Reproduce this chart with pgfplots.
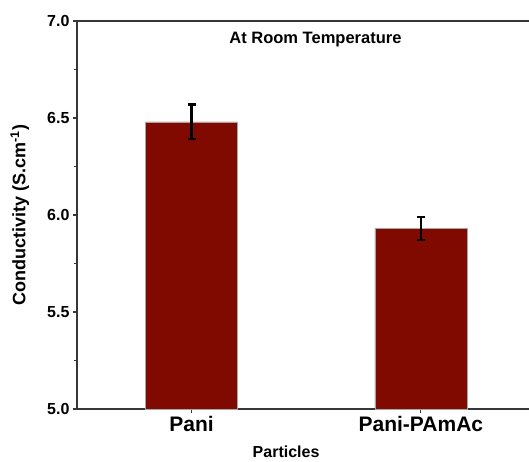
\documentclass[border=0pt]{standalone}
\usepackage{pgfplots}
\pgfplotsset{compat=1.18}
\usepackage{fontspec}
\setmainfont{Liberation Sans}
\definecolor{barred}{RGB}{128,10,0}
\definecolor{axisgray}{RGB}{55,55,55}
\begin{document}
\begin{tikzpicture}
\useasboundingbox (-77pt,-52pt) rectangle (452pt,409pt);
\begin{axis}[
  at={(0,0)}, anchor=south west,
  scale only axis, width=458.5pt, height=388pt,
  xmin=-0.5, xmax=1.5, ymin=5, ymax=7,
  xtick={0,1}, xticklabels={Pani,Pani-PAmAc},
  ytick={5,5.5,6,6.5,7}, minor y tick num=1,
  xtick pos=bottom, ytick pos=left,
  tick align=outside,
  major tick length=4pt, minor tick length=2.5pt,
  axis line style={axisgray, line width=1.4pt},
  every tick/.style={axisgray, line width=1.2pt},
  /pgf/number format/assume math mode=true,
  yticklabel style={font=\fontsize{16}{19}\selectfont\bfseries,
    /pgf/number format/.cd, fixed, fixed zerofill, precision=1},
  xticklabel style={font=\fontsize{21}{25}\selectfont\bfseries},
  xlabel={Particles},
  ylabel={Conductivity (S.cm\textsuperscript{-1})},
  xlabel style={font=\fontsize{16}{19}\selectfont\bfseries,
    at={(axis description cs:0.456,-0.124)}, anchor=base},
  ylabel style={font=\fontsize{18}{21}\selectfont\bfseries,
    at={(axis description cs:-0.125,0.5)}, anchor=center},
]
\addplot[ybar, bar width=92pt, fill=barred, draw=gray!70, line width=0.6pt,
  error bars/.cd, y dir=both, y explicit,
  error bar style={black, line width=2.3pt},
  error mark options={black, rotate=90, line width=2.3pt, mark size=4pt}]
  coordinates {(0,6.48) +- (0,0.09) (1,5.93) +- (0,0.06)};
\node[anchor=base, font=\fontsize{16.5}{20}\selectfont\bfseries]
  at (axis description cs:0.52,0.943) {At Room Temperature};
\end{axis}
\end{tikzpicture}
\end{document}
